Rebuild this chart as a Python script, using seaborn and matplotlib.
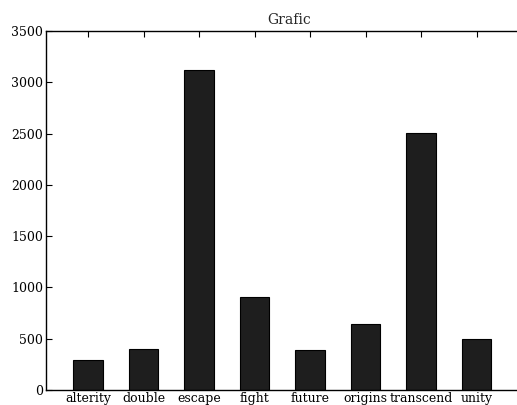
import matplotlib
matplotlib.use('Agg')
import matplotlib.pyplot as plt
import seaborn as sns
import pandas as pd

# valores
categorias = ['alterity', 'double', 'escape', 'fight', 'future',
              'origins', 'transcend', 'unity']
valores = [290, 400, 3120, 905, 390, 640, 2505, 500]

df = pd.DataFrame({'tema': categorias, 'contagem': valores})

sns.set_style('ticks')
plt.rcParams['font.family'] = ['DejaVu Serif']
plt.rcParams['xtick.direction'] = 'in'
plt.rcParams['ytick.direction'] = 'in'

fig = plt.figure(figsize=(5.17, 4.05), dpi=100)
ax = fig.add_axes([0.089, 0.037, 0.94, 0.886])

sns.barplot(data=df, x='tema', y='contagem', color='#1e1e1e',
            saturation=1, width=0.53, edgecolor='black', linewidth=0.8, ax=ax)

ax.set_xlim(-0.76, 8.0)
ax.set_ylim(0, 3500)
ax.set_yticks(range(0, 3501, 500))
ax.set_xlabel('')
ax.set_ylabel('')
ax.set_title('Grafic', fontsize=10, pad=5)
ax.tick_params(axis='both', labelsize=9, length=4, width=0.8, colors='black',
               top=True, right=True)
ax.tick_params(axis='x', pad=1.5)
ax.tick_params(axis='y', pad=2)
for s in ax.spines.values():
    s.set_color('black')
    s.set_linewidth(1)

fig.savefig('out.png', dpi=100)
